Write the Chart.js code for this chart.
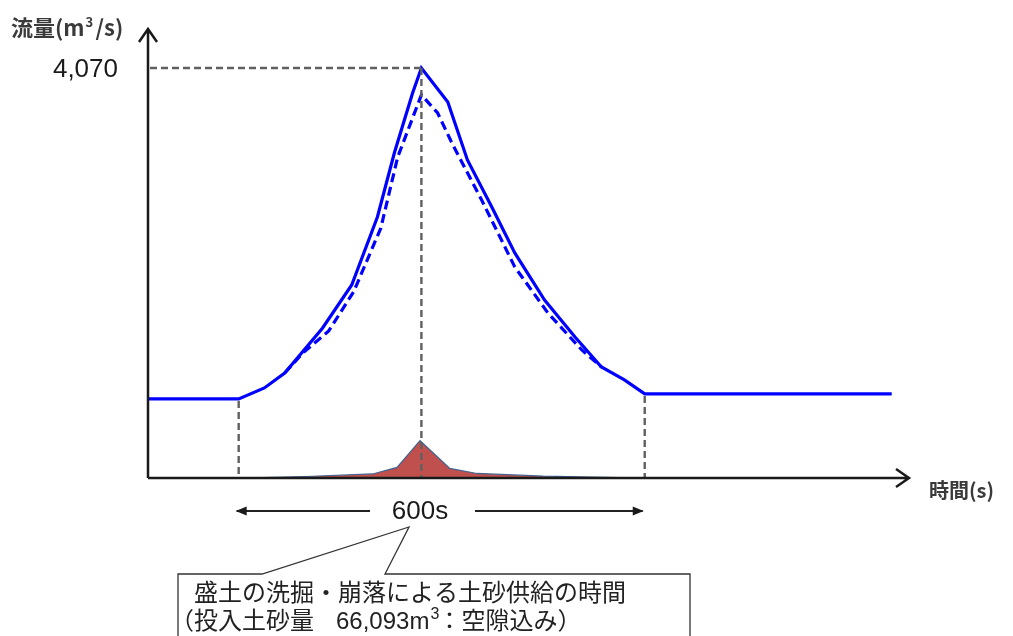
<!DOCTYPE html>
<html>
<head>
<meta charset="utf-8">
<script src="https://cdn.jsdelivr.net/npm/chart.js@4"></script>
<style>
  body { margin: 0; background: #fff; }
  canvas { display: block; }
</style>
</head>
<body>
<canvas id="myChart" width="1013" height="636"></canvas>
<script>
  // solid hydrograph (time s from start of supply, flow m3/s)
  const solidTimes = [-134, 0, 38, 68, 124, 167, 205, 230, 257, 270, 309, 338, 374, 408, 452, 497, 536, 570, 600, 965];
  const solidFlow  = [785, 785, 894, 1042, 1489, 1916, 2591, 3226, 3822, 4070, 3733, 3157, 2690, 2234, 1767, 1400, 1102, 973, 835, 835];

  // dashed hydrograph
  const dashedTimes = [68, 95, 133, 170, 210, 235, 270, 294, 315, 359, 408, 457, 507, 536];
  const dashedFlow  = [1042, 1241, 1460, 1850, 2480, 3186, 3803, 3623, 3326, 2760, 2095, 1638, 1271, 1102];

  // sediment supply (red area)
  const sedimentTimes = [0, 100, 198, 234, 268, 312, 352, 450, 600];
  const sedimentFlow  = [0, 15, 40, 105, 370, 95, 45, 18, 0];

  const yTicks = [4070];
  const peakTime = 270;
  const peakFlow = 4070;
  const supplyStart = 0;
  const supplyEnd = 600;
  const supplyLabel = '600s';

  const toXY = (xs, ys) => xs.map((t, i) => ({ x: t, y: ys[i] }));

  function arrowHead(ctx, x, y, dir) {
    ctx.beginPath();
    ctx.moveTo(x, y);
    ctx.lineTo(x - dir * 11, y - 4.5);
    ctx.lineTo(x - dir * 11, y + 4.5);
    ctx.closePath();
    ctx.fill();
  }

  const overlay = {
    id: 'overlay',
    afterDatasetsDraw(chart) {
      const { ctx, scales: { x, y } } = chart;
      const left = x.left, bottom = y.getPixelForValue(0);
      ctx.save();

      // dashed guide lines
      ctx.strokeStyle = '#606060';
      ctx.lineWidth = 2.4;
      ctx.setLineDash([7, 4]);
      const px = x.getPixelForValue(peakTime), py = y.getPixelForValue(peakFlow);
      ctx.beginPath();
      ctx.moveTo(left + 2, py); ctx.lineTo(px, py);
      ctx.moveTo(px, py); ctx.lineTo(px, bottom);
      const sx = x.getPixelForValue(supplyStart);
      ctx.moveTo(sx, y.getPixelForValue(solidFlow[1]) + 2); ctx.lineTo(sx, bottom);
      const ex = x.getPixelForValue(supplyEnd);
      ctx.moveTo(ex, y.getPixelForValue(solidFlow[18]) + 2); ctx.lineTo(ex, bottom);
      ctx.stroke();
      ctx.setLineDash([]);

      // axes with open arrows
      ctx.strokeStyle = '#1a1a1a';
      ctx.lineWidth = 2.5;
      ctx.beginPath();
      ctx.moveTo(left, bottom); ctx.lineTo(left, 29);
      ctx.moveTo(139, 42); ctx.lineTo(left, 29); ctx.lineTo(157, 42);
      ctx.moveTo(left, bottom); ctx.lineTo(909, bottom);
      ctx.moveTo(896, bottom - 9); ctx.lineTo(909, bottom); ctx.lineTo(896, bottom + 9);
      ctx.stroke();

      // axis titles
      ctx.fillStyle = '#3a3a3a';
      ctx.textBaseline = 'alphabetic';
      ctx.font = 'bold 22px "Noto Sans CJK JP"';
      ctx.fillText('流量(m', 11, 36);
      let w = ctx.measureText('流量(m').width;
      ctx.font = 'bold 13px "Noto Sans CJK JP"';
      ctx.fillText('3', 11 + w + 1, 27);
      ctx.font = 'bold 22px "Noto Sans CJK JP"';
      ctx.fillText('/s)', 11 + w + 11, 36);
      ctx.font = 'bold 20px "Noto Sans CJK JP"';
      ctx.fillText('時間(s)', 929, 498);

      // y tick labels
      ctx.fillStyle = '#1a1a1a';
      ctx.font = '26px "Liberation Sans", Arial';
      ctx.textAlign = 'right';
      ctx.textBaseline = 'middle';
      yTicks.forEach(v => ctx.fillText(v.toLocaleString('en-US'), 118, y.getPixelForValue(v) + 2));

      // 600s dimension arrow
      const ay = 511;
      const lx = x.getPixelForValue(265);
      ctx.strokeStyle = '#222';
      ctx.fillStyle = '#1a1a1a';
      ctx.lineWidth = 1.8;
      ctx.beginPath();
      ctx.moveTo(sx - 2, ay); ctx.lineTo(lx - 48, ay);
      ctx.moveTo(lx + 57, ay); ctx.lineTo(ex - 2, ay);
      ctx.stroke();
      arrowHead(ctx, sx - 3, ay, -1);
      arrowHead(ctx, ex - 1, ay, 1);
      ctx.textAlign = 'center';
      ctx.font = '26px "Liberation Sans", Arial';
      ctx.fillText(supplyLabel, lx + 2, ay + 1);

      // callout box
      ctx.lineWidth = 1.3;
      ctx.strokeStyle = '#333';
      ctx.fillStyle = '#fff';
      ctx.beginPath();
      ctx.moveTo(178, 645); ctx.lineTo(178, 574); ctx.lineTo(262, 574);
      ctx.lineTo(409, 527); ctx.lineTo(385, 574); ctx.lineTo(690, 574); ctx.lineTo(690, 645);
      ctx.fill();
      ctx.stroke();

      ctx.fillStyle = '#222';
      ctx.textAlign = 'left';
      ctx.textBaseline = 'alphabetic';
      ctx.font = '24px "Noto Sans CJK JP"';
      ctx.fillText('盛土の洗掘・崩落による土砂供給の時間', 194, 601);
      ctx.fillText('（投入土砂量', 170, 629);
      ctx.font = '24px "Liberation Sans", Arial';
      ctx.fillText('66,093m', 336, 629);
      w = ctx.measureText('66,093m').width;
      ctx.font = '16px "Liberation Sans", Arial';
      ctx.fillText('3', 336 + w + 1, 619);
      ctx.font = '24px "Noto Sans CJK JP"';
      ctx.fillText('：空隙込み）', 336 + w + 8, 629);

      ctx.restore();
    }
  };

  const ctx = document.getElementById('myChart');

  new Chart(ctx, {
    type: 'line',
    data: {
      datasets: [{
        label: 'sediment',
        data: toXY(sedimentTimes, sedimentFlow),
        fill: 'origin',
        backgroundColor: '#c0504d',
        borderColor: '#41628f',
        borderWidth: 1.2,
        pointRadius: 0,
        tension: 0
      }, {
        label: 'dashed',
        data: toXY(dashedTimes, dashedFlow),
        borderColor: '#0000ff',
        borderWidth: 3.2,
        borderDash: [9, 5],
        pointRadius: 0,
        fill: false,
        tension: 0
      }, {
        label: 'solid',
        data: toXY(solidTimes, solidFlow),
        borderColor: '#0000ff',
        borderWidth: 3.2,
        pointRadius: 0,
        fill: false,
        tension: 0
      }]
    },
    options: {
      responsive: false,
      animation: false,
      layout: { padding: { left: 148, right: 103, top: 30, bottom: 158 } },
      plugins: { legend: { display: false }, tooltip: { enabled: false } },
      scales: {
        x: { type: 'linear', min: -134, max: 992, display: false },
        y: { min: 0, max: 4447, display: false }
      }
    },
    plugins: [overlay]
  });
</script>
</body>
</html>
